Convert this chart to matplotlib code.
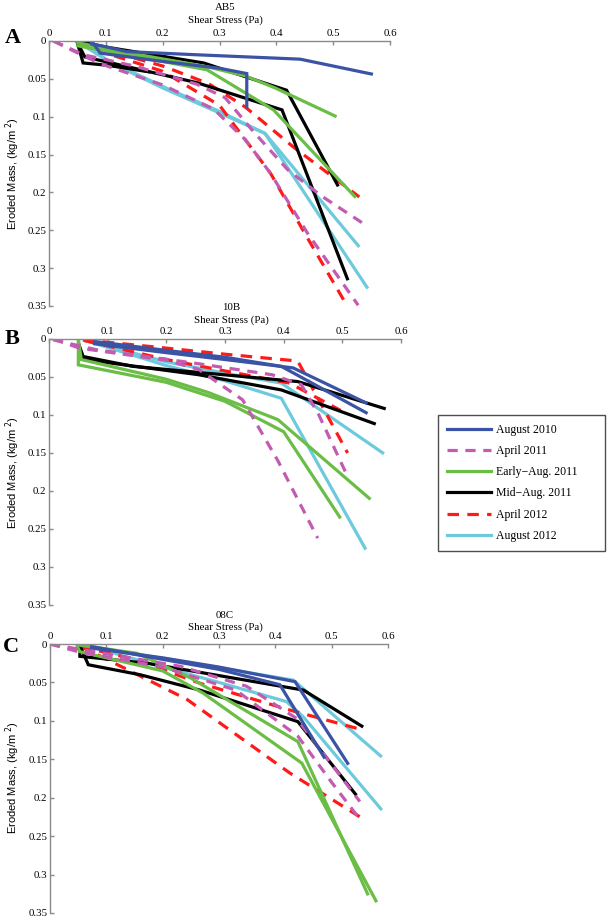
import matplotlib
matplotlib.use("Agg")
import matplotlib.pyplot as plt
from matplotlib.lines import Line2D
from matplotlib.ticker import FuncFormatter

# ---------------- data (x = shear stress Pa, y = eroded mass kg/m^2) ----------------
series_names = ["August 2010", "April 2011", "Early\u2212Aug. 2011", "Mid\u2212Aug. 2011", "April 2012", "August 2012"]

# Panel A : AB5
a_aug2010 = [([0.075, 0.075, 0.09, 0.137, 0.254, 0.442, 0.57], [0.0, 0.004, 0.006, 0.014, 0.018, 0.024, 0.044]),
             ([0.075, 0.09, 0.2, 0.3, 0.348, 0.348], [0.0, 0.016, 0.027, 0.036, 0.043, 0.089])]
a_apr2011 = [([0.008, 0.06, 0.15, 0.26, 0.31, 0.36, 0.42, 0.48, 0.561], [0.0, 0.018, 0.033, 0.057, 0.075, 0.12, 0.17, 0.205, 0.245]),
             ([0.008, 0.04, 0.09, 0.2, 0.29, 0.345, 0.39, 0.455, 0.544], [0.0, 0.012, 0.03, 0.058, 0.09, 0.13, 0.175, 0.254, 0.349])]
a_early2011 = [([0.048, 0.15, 0.278, 0.345, 0.398, 0.506], [0.002, 0.017, 0.034, 0.046, 0.062, 0.100]),
               ([0.048, 0.15, 0.278, 0.395, 0.54], [0.006, 0.02, 0.038, 0.091, 0.207])]
a_mid2011 = [([0.049, 0.1, 0.272, 0.418, 0.509], [0.0, 0.008, 0.029, 0.065, 0.192]),
             ([0.049, 0.06, 0.102, 0.178], [0.0, 0.029, 0.032, 0.041]),
             ([0.05, 0.063, 0.26, 0.41, 0.526], [0.002, 0.021, 0.055, 0.091, 0.316])]
a_apr2012 = [([0.05, 0.1, 0.2, 0.28, 0.345, 0.43, 0.546], [0.0, 0.012, 0.033, 0.056, 0.087, 0.14, 0.206]),
             ([0.05, 0.1, 0.2, 0.3, 0.34, 0.39, 0.45, 0.52], [0.0, 0.016, 0.04, 0.085, 0.125, 0.175, 0.254, 0.344])]
a_aug2012 = [([0.055, 0.107, 0.2, 0.3, 0.38, 0.561], [0.003, 0.027, 0.06, 0.093, 0.122, 0.327]),
             ([0.055, 0.107, 0.2, 0.3, 0.38, 0.546], [0.003, 0.028, 0.062, 0.095, 0.122, 0.272])]

# Panel B : 10B
b_aug2010 = [([0.075, 0.2, 0.3, 0.396, 0.543], [0.003, 0.015, 0.024, 0.036, 0.098]),
             ([0.075, 0.2, 0.3, 0.416, 0.543], [0.006, 0.018, 0.027, 0.038, 0.085])]
b_apr2011 = [([0.007, 0.052, 0.2, 0.255, 0.33, 0.39, 0.458], [0.0, 0.012, 0.028, 0.04, 0.08, 0.16, 0.262]),
             ([0.007, 0.08, 0.25, 0.38, 0.43, 0.46, 0.509], [0.001, 0.014, 0.032, 0.047, 0.06, 0.1, 0.181])]
b_early2011 = [([0.05, 0.05, 0.2, 0.3, 0.4, 0.497], [0.0, 0.034, 0.057, 0.082, 0.122, 0.236]),
               ([0.05, 0.055, 0.2, 0.27, 0.39, 0.548], [0.0, 0.027, 0.053, 0.07, 0.106, 0.211])]
b_mid2011 = [([0.05, 0.058, 0.143, 0.424, 0.574], [0.005, 0.023, 0.036, 0.056, 0.092]),
             ([0.05, 0.06, 0.255, 0.396, 0.557], [0.008, 0.027, 0.047, 0.067, 0.112])]
b_apr2012 = [([0.058, 0.2, 0.3, 0.424, 0.509], [0.001, 0.012, 0.02, 0.029, 0.15]),
             ([0.06, 0.2, 0.3, 0.41, 0.497], [0.002, 0.027, 0.042, 0.058, 0.094])]
b_aug2012 = [([0.058, 0.2, 0.3, 0.396, 0.571], [0.001, 0.03, 0.045, 0.058, 0.151]),
             ([0.058, 0.2, 0.3, 0.396, 0.54], [0.001, 0.035, 0.055, 0.078, 0.277])]

# Panel C : 08C
c_aug2010 = [([0.071, 0.2, 0.3, 0.408, 0.488], [0.003, 0.02, 0.033, 0.053, 0.149]),
             ([0.071, 0.2, 0.3, 0.435, 0.53], [0.005, 0.018, 0.03, 0.049, 0.157])]
c_apr2011 = [([0.0, 0.053, 0.231, 0.349, 0.438, 0.55], [0.0, 0.007, 0.029, 0.055, 0.097, 0.205]),
             ([0.0, 0.05, 0.2, 0.33, 0.44, 0.5, 0.55], [0.0, 0.01, 0.03, 0.06, 0.12, 0.18, 0.228])]
c_early2011 = [([0.047, 0.154, 0.249, 0.44, 0.565], [0.001, 0.012, 0.044, 0.127, 0.327]),
               ([0.047, 0.053, 0.2, 0.272, 0.447, 0.58], [0.001, 0.01, 0.035, 0.064, 0.155, 0.336])]
c_mid2011 = [([0.053, 0.053, 0.172, 0.45, 0.556], [0.002, 0.016, 0.025, 0.06, 0.108]),
             ([0.053, 0.068, 0.16, 0.266, 0.44, 0.544], [0.002, 0.027, 0.04, 0.06, 0.101, 0.197])]
c_apr2012 = [([0.053, 0.09, 0.243, 0.426, 0.559], [0.003, 0.016, 0.072, 0.168, 0.229]),
             ([0.053, 0.15, 0.266, 0.426, 0.556], [0.003, 0.02, 0.051, 0.086, 0.112])]
c_aug2012 = [([0.071, 0.432, 0.589], [0.003, 0.047, 0.147]),
             ([0.071, 0.2, 0.3, 0.42, 0.45, 0.589], [0.003, 0.03, 0.05, 0.075, 0.095, 0.216])]

panel_titles = ["AB5", "10B", "08C"]
panel_letters = ["A", "B", "C"]
x_ticks = [0, 0.1, 0.2, 0.3, 0.4, 0.5, 0.6]
y_ticks = [0, 0.05, 0.1, 0.15, 0.2, 0.25, 0.3, 0.35]

# ---------------- styling ----------------
colors = ["#3a53a4", "#c25cb2", "#6abd45", "#000000", "#ff1a1a", "#6dcadc"]
dashes = [None, (3.2, 2.4), None, None, (3.6, 2.6), None]
LW = 2.3
SERIF = ["Liberation Serif", "DejaVu Serif"]
SANS = ["Liberation Sans", "DejaVu Sans"]

W, H = 609, 918
fig = plt.figure(figsize=(W / 100, H / 100), dpi=100)

# axes boxes in pixels: (left, top, right, bottom)
boxes = [(49, 41, 390, 306), (49, 339, 401, 605), (50, 644, 388, 913)]
title_y = [7, 307, 615]
xlabel_y = [20, 320, 627]
letter_pos = [(13, 38), (12, 339), (11, 647)]
ylabel_y = [173, 472, 777]

panels = [
    [a_aug2010, a_apr2011, a_early2011, a_mid2011, a_apr2012, a_aug2012],
    [b_aug2010, b_apr2011, b_early2011, b_mid2011, b_apr2012, b_aug2012],
    [c_aug2010, c_apr2011, c_early2011, c_mid2011, c_apr2012, c_aug2012],
]
draw_order = [5, 4, 3, 2, 1, 0]

fmt = FuncFormatter(lambda v, p: f"{v:g}")

for i, (l, t, r, b) in enumerate(boxes):
    ax = fig.add_axes([l / W, 1 - b / H, (r - l) / W, (b - t) / H])
    for s in draw_order:
        for xs, ys in panels[i][s]:
            ln, = ax.plot(xs, ys, color=colors[s], lw=LW, solid_capstyle="butt",
                          solid_joinstyle="miter")
            if dashes[s] is not None:
                ln.set_dashes(dashes[s])
    ax.set_xlim(0, 0.6)
    ax.set_ylim(0.35, 0)
    ax.xaxis.tick_top()
    ax.set_xticks(x_ticks)
    ax.set_yticks(y_ticks)
    ax.xaxis.set_major_formatter(fmt)
    ax.yaxis.set_major_formatter(fmt)
    for sp in ["bottom", "right"]:
        ax.spines[sp].set_visible(False)
    for sp in ["top", "left"]:
        ax.spines[sp].set_color("#8a8a8a")
        ax.spines[sp].set_linewidth(1.0)
    ax.tick_params(direction="in", length=3, width=1, color="#8a8a8a", pad=2, labelsize=7.8)
    for lab in ax.get_xticklabels() + ax.get_yticklabels():
        lab.set_family(SERIF)
    ax.patch.set_alpha(0)
    cx = (l + r) / 2 + 6
    fig.text(cx / W, 1 - title_y[i] / H, panel_titles[i], ha="center", va="center",
             family=SERIF, fontsize=7.8)
    fig.text(cx / W, 1 - xlabel_y[i] / H, "Shear Stress (Pa)", ha="center", va="center",
             family=SERIF, fontsize=7.8)
    fig.text(letter_pos[i][0] / W, 1 - letter_pos[i][1] / H, panel_letters[i], ha="center",
             va="center", family=SERIF, fontsize=16, fontweight="bold")
    fig.text(12.5 / W, 1 - ylabel_y[i] / H, "Eroded Mass, (kg/m $^{2}$)", ha="center",
             va="center", rotation=90, family=SANS, fontsize=8)

handles = []
for s in range(6):
    h = Line2D([0], [0], color=colors[s], lw=LW)
    if dashes[s] is not None:
        h.set_dashes(dashes[s])
    handles.append(h)

lx0, ly0, lx1, ly1 = 438, 415, 605, 551
leg = fig.legend(handles, series_names, loc="upper left", mode="expand",
                 bbox_to_anchor=(lx0 / W, 1 - ly1 / H, (lx1 - lx0) / W, (ly1 - ly0) / H),
                 borderaxespad=0, frameon=True, fancybox=False, handlelength=3.7,
                 handletextpad=0.5, labelspacing=0.78, borderpad=0.75,
                 prop={"family": SERIF, "size": 8.5})
leg.get_frame().set_edgecolor("#222222")
leg.get_frame().set_linewidth(1.0)

fig.savefig("out.png", dpi=100)
